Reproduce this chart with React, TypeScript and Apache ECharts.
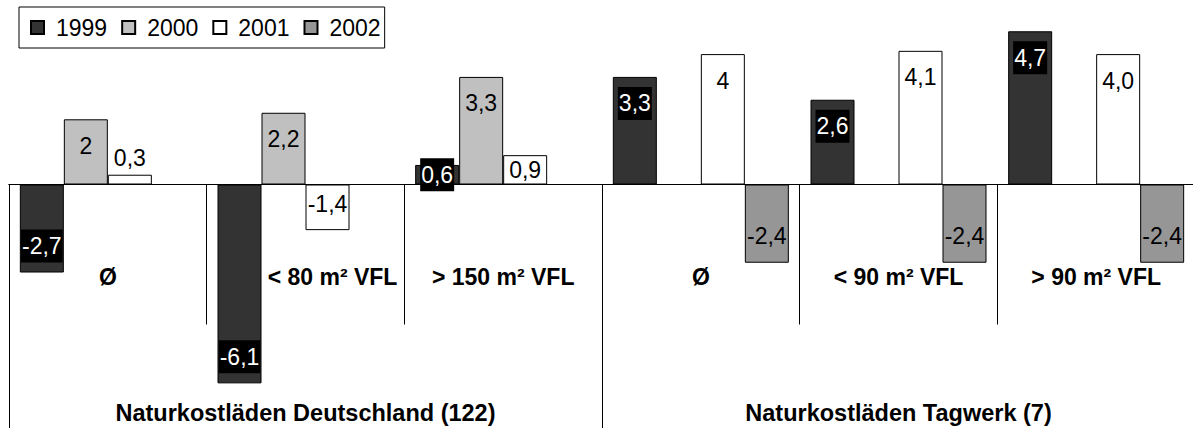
import React, { useEffect, useRef } from 'react';
import * as echarts from 'echarts';

const categories = ['Ø', '< 80 m² VFL', '> 150 m² VFL', 'Ø', '< 90 m² VFL', '> 90 m² VFL'];
const groups = ['Naturkostläden Deutschland (122)', 'Naturkostläden Tagwerk (7)'];
const years = ['1999', '2000', '2001', '2002'];
const values1999 = [-2.7, -6.1, 0.6, 3.3, 2.6, 4.7];
const values2000 = [2, 2.2, 3.3, null, null, null];
const values2001 = [0.3, -1.4, 0.9, 4, 4.1, 4.0];
const values2002 = [null, null, null, -2.4, -2.4, -2.4];
// labels printed without a decimal in the original: [seriesIndex, dataIndex]
const wholeNumberLabels = [[1, 0], [2, 3]];
const colors = ['#333333', '#c0c0c0', '#ffffff', '#969696'];

const FONT = "'Liberation Sans', Arial, Helvetica, sans-serif";

const Y_MIN = -7;
const Y_MAX = 5.5;
const GRID_TOP = 5.2;
const GRID_BOTTOM = 15.3;
const CHART_H = 428;

function labelText(v: number, si: number, di: number) {
  const whole = wholeNumberLabels.some(([s, d]) => s === si && d === di);
  return (whole ? String(Math.round(v)) : v.toFixed(1)).replace('.', ',');
}

function labelPlacement(v: number) {
  const a = Math.abs(v);
  if (a < 0.5) return { position: v >= 0 ? 'top' : 'bottom', distance: 0 };
  if (a < 1) return { position: 'inside', distance: 0 };
  return { position: v >= 0 ? 'insideTop' : 'insideBottom', distance: 10 };
}

export default function App() {
  const ref = useRef<HTMLDivElement>(null);

  useEffect(() => {
    if (!ref.current) return;
    const chart = echarts.init(ref.current, null, { renderer: 'svg' });
    const seriesValues = [values1999, values2000, values2001, values2002];
    const series = seriesValues.map((vals, si) => ({
      name: years[si],
      type: 'bar',
      xAxisIndex: 0,
      yAxisIndex: 0,
      barWidth: 44,
      barGap: '0%',
      itemStyle: { color: colors[si], borderColor: '#000', borderWidth: 1 },
      label: {
        show: true,
        fontFamily: FONT,
        fontSize: 23,
        lineHeight: 25,
        padding: [4, 1, 4, 1],
        color: si === 0 ? '#ffffff' : '#000000',
        backgroundColor: si === 0 ? '#000000' : 'transparent',
      },
      data: vals.map((v, di) =>
        v == null
          ? null
          : {
              value: v,
              label: { ...labelPlacement(v), formatter: labelText(v, si, di) },
            }
      ),
    }));

    // the zero line of the value axis: the frame grid starts there
    const plotH = CHART_H - GRID_TOP - GRID_BOTTOM;
    const zeroY = GRID_TOP + (Y_MAX / (Y_MAX - Y_MIN)) * plotH;

    const option = {
      animation: false,
      textStyle: { fontFamily: FONT },
      legend: {
        data: years,
        left: 19,
        top: 7,
        orient: 'horizontal',
        padding: [9, 4, 9, 11],
        itemGap: 14,
        itemWidth: 13,
        itemHeight: 13,
        icon: 'rect',
        borderColor: '#000',
        borderWidth: 1,
        textStyle: { fontFamily: FONT, fontSize: 23, color: '#000', padding: [0, 0, 0, 7] },
      },
      grid: [
        { left: 9, right: -2, top: GRID_TOP, bottom: GRID_BOTTOM, outerBoundsMode: 'none' },
        { left: 9, right: -2, top: zeroY, bottom: 0, outerBoundsMode: 'none' },
      ],
      xAxis: [
        {
          type: 'category',
          gridIndex: 0,
          data: categories,
          show: false,
        },
        {
          type: 'category',
          gridIndex: 1,
          data: categories,
          position: 'top',
          axisLine: { show: true, onZero: false, lineStyle: { color: '#000', width: 1 } },
          axisTick: { show: true, inside: true, interval: 0, length: 140, alignWithLabel: false, lineStyle: { color: '#000', width: 1 } },
          axisLabel: {
            inside: true,
            interval: 0,
            margin: 81,
            fontFamily: FONT,
            fontSize: 23,
            fontWeight: 'bold',
            color: '#000',
            formatter: (v: string, i: number) => (i === 1 ? `{shift|${v}}` : v),
            rich: {
              shift: { padding: [0, 0, 0, 54], fontFamily: FONT, fontSize: 23, fontWeight: 'bold', color: '#000' },
            },
          },
          splitLine: { show: false },
        },
        {
          type: 'category',
          gridIndex: 1,
          data: groups,
          position: 'top',
          axisLine: { show: true, onZero: false, lineStyle: { color: '#000', width: 1 } },
          axisTick: { show: true, inside: true, interval: 0, length: 250, alignWithLabel: false, lineStyle: { color: '#000', width: 1 } },
          axisLabel: {
            inside: true,
            interval: 0,
            margin: 216,
            fontFamily: FONT,
            fontSize: 23.5,
            fontWeight: 'bold',
            color: '#000',
          },
          splitLine: { show: false },
        },
      ],
      yAxis: [
        { type: 'value', gridIndex: 0, min: Y_MIN, max: Y_MAX, show: false, splitLine: { show: false } },
        { type: 'value', gridIndex: 1, min: 0, max: 1, show: false, splitLine: { show: false } },
      ],
      series,
    };
    chart.setOption(option as any);
    return () => chart.dispose();
  }, []);

  return (
    <div
      ref={ref}
      style={{ position: 'absolute', left: 0, top: 0, width: 1193, height: 428, background: '#fff' }}
    />
  );
}
